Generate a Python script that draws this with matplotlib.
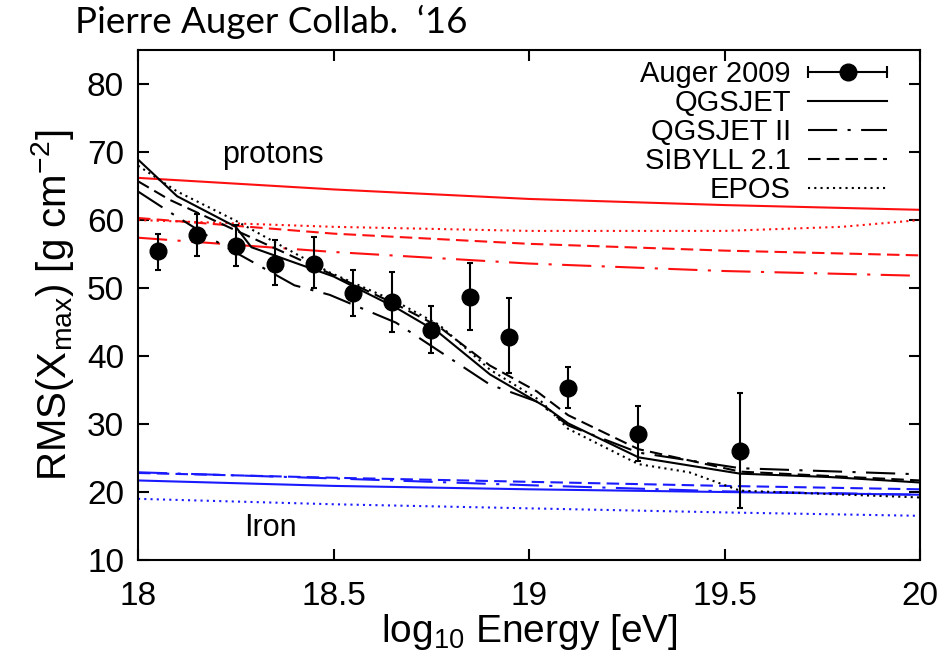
import matplotlib
matplotlib.use('Agg')
import matplotlib.pyplot as plt
from matplotlib.lines import Line2D
from matplotlib.legend_handler import HandlerBase

# Auger 2009 data
energy = [18.05, 18.15, 18.25, 18.35, 18.45, 18.55, 18.65, 18.75, 18.85, 18.95, 19.10, 19.28, 19.54]
rms = [55.4, 57.8, 56.2, 53.6, 53.6, 49.2, 47.9, 43.8, 48.7, 42.8, 35.3, 28.6, 26.0]
rms_hi = [57.9, 60.9, 59.3, 57.0, 57.5, 52.6, 52.3, 47.4, 53.7, 48.5, 38.4, 32.7, 34.5]
rms_lo = [52.6, 54.7, 53.2, 50.5, 50.0, 45.9, 43.5, 40.5, 43.8, 37.5, 32.4, 24.6, 17.7]

# model predictions for the mixed composition fits (black)
qgsjet_x = [18.0, 18.10, 18.25, 18.29, 18.5, 18.66, 18.77, 18.9, 19.04, 19.1, 19.28, 19.54, 19.77, 20.0]
qgsjet_y = [68.9, 63.5, 59.0, 56.0, 51.7, 47.1, 43.4, 37.3, 32.6, 30.1, 25.1, 22.7, 22.2, 21.4]
qgsjet2_x = [18.0, 18.08, 18.21, 18.4, 18.49, 18.66, 18.9, 19.02, 19.1, 19.28, 19.54, 20.0]
qgsjet2_y = [64.2, 61.2, 56.5, 50.4, 49.0, 44.9, 35.8, 33.3, 29.8, 25.8, 23.5, 22.6]
sibyll_x = [18.0, 18.08, 18.23, 18.5, 18.66, 18.77, 18.9, 19.02, 19.1, 19.28, 19.54, 20.0]
sibyll_y = [65.7, 63.0, 59.0, 51.9, 47.6, 44.3, 38.6, 34.8, 31.3, 26.3, 23.0, 21.7]
epos_x = [18.0, 18.1, 18.25, 18.49, 18.66, 18.77, 18.9, 19.03, 19.1, 19.28, 19.41, 19.54, 19.77, 20.0]
epos_y = [68.0, 64.2, 59.9, 52.3, 48.0, 44.6, 38.0, 33.4, 29.3, 24.1, 22.9, 20.2, 19.7, 19.2]

# pure protons (red) and pure iron (blue)
pure_x = [18.0, 18.5, 19.0, 19.5, 20.0]
p_qgsjet = [66.2, 64.5, 63.1, 62.2, 61.5]
p_qgsjet2 = [57.4, 55.3, 53.6, 52.5, 51.8]
p_sibyll = [60.3, 58.0, 56.5, 55.5, 54.8]
p_epos_x = [18.0, 18.5, 19.0, 19.5, 19.8, 20.0]
p_epos = [60.0, 59.0, 58.4, 58.4, 59.0, 60.0]
fe_qgsjet = [21.7, 20.9, 20.4, 20.0, 19.6]
fe_qgsjet2 = [22.9, 22.0, 21.0, 20.1, 19.6]
fe_sibyll = [22.8, 22.1, 21.5, 20.9, 20.4]
fe_epos = [19.0, 18.2, 17.6, 17.0, 16.5]

plt.rcParams['font.family'] = ['Liberation Sans', 'DejaVu Sans']
plt.rcParams['mathtext.default'] = 'regular'

LW = 1.5
sty = {
    'QGSJET': '-',
    'QGSJET II': (0, (14, 5, 1.5, 5)),
    'SIBYLL 2.1': (0, (6, 3)),
    'EPOS': (0, (1, 2)),
}


class HandlerHErr(HandlerBase):
    def create_artists(self, legend, orig_handle, xdescent, ydescent,
                       width, height, fontsize, trans):
        y = height / 2 - ydescent
        x0, x1 = -xdescent, width - xdescent
        bar = Line2D([x0, x1], [y, y], color='k', lw=LW, marker='|',
                     ms=8, mew=LW)
        dot = Line2D([(x0 + x1) / 2], [y], color='k', marker='o', ms=12,
                     ls='none')
        for a in (bar, dot):
            a.set_transform(trans)
        return [bar, dot]


fig = plt.figure(figsize=(9.44, 6.54), dpi=100)
ax = fig.add_axes([0.1462, 0.1437, 0.8284, 0.7798])

ax.plot(pure_x, p_qgsjet, color='#ff1010', lw=LW, ls=sty['QGSJET'])
ax.plot(pure_x, p_qgsjet2, color='#ff1010', lw=LW, ls=sty['QGSJET II'])
ax.plot(pure_x, p_sibyll, color='#ff1010', lw=LW, ls=sty['SIBYLL 2.1'])
ax.plot(p_epos_x, p_epos, color='#ff1010', lw=LW, ls=sty['EPOS'])
ax.plot(pure_x, fe_qgsjet, color='#1a1aff', lw=LW, ls=sty['QGSJET'])
ax.plot(pure_x, fe_qgsjet2, color='#1a1aff', lw=LW, ls=sty['QGSJET II'])
ax.plot(pure_x, fe_sibyll, color='#1a1aff', lw=LW, ls=sty['SIBYLL 2.1'])
ax.plot(pure_x, fe_epos, color='#1a1aff', lw=LW, ls=sty['EPOS'])

h_q, = ax.plot(qgsjet_x, qgsjet_y, color='k', lw=LW, ls=sty['QGSJET'])
h_q2, = ax.plot(qgsjet2_x, qgsjet2_y, color='k', lw=LW, ls=sty['QGSJET II'])
h_s, = ax.plot(sibyll_x, sibyll_y, color='k', lw=LW, ls=sty['SIBYLL 2.1'])
h_e, = ax.plot(epos_x, epos_y, color='k', lw=LW, ls=sty['EPOS'])

yerr = [[r - lo for r, lo in zip(rms, rms_lo)],
        [hi - r for r, hi in zip(rms, rms_hi)]]
ax.errorbar(energy, rms, yerr=yerr, fmt='o', color='k', ms=12,
            elinewidth=LW, capsize=2.5, capthick=LW, zorder=5)
h_data = Line2D([], [], color='k')

ax.set_xlim(18, 20)
ax.set_ylim(10, 85)
ax.set_xticks([18, 18.5, 19, 19.5, 20])
ax.set_xticklabels(['18', '18.5', '19', '19.5', '20'])
ax.set_yticks(range(10, 81, 10))
ax.tick_params(direction='in', length=8, width=1.5, top=True, right=True,
               labelsize=24)
ax.tick_params(axis='x', pad=15)
ax.tick_params(axis='y', pad=10)
for s in ax.spines.values():
    s.set_linewidth(1.5)

ax.set_xlabel('log$_{10}$ Energy [eV]', fontsize=28, labelpad=0)
ax.set_ylabel('RMS(X$_{max}$) [g cm$^{-2}$]', fontsize=29, labelpad=8)

ax.text(18.345, 69.6, 'protons', fontsize=22, ha='center', va='center')
ax.text(18.338, 14.7, 'Iron', fontsize=22, ha='center', va='center')

ax.legend([h_data, h_q, h_q2, h_s, h_e],
          ['Auger 2009', 'QGSJET', 'QGSJET II', 'SIBYLL 2.1', 'EPOS'],
          handler_map={h_data: HandlerHErr()},
          loc='upper right', bbox_to_anchor=(0.973, 1.003),
          frameon=False, markerfirst=False, fontsize=21,
          handlelength=2.7, handletextpad=0.6, labelspacing=0.035,
          borderaxespad=0)

fig.text(0.079, 0.992, 'Pierre Auger Collab.  \u201816', fontsize=26.5,
         family='Lato', ha='left', va='top')

fig.savefig('out.png', dpi=100)
